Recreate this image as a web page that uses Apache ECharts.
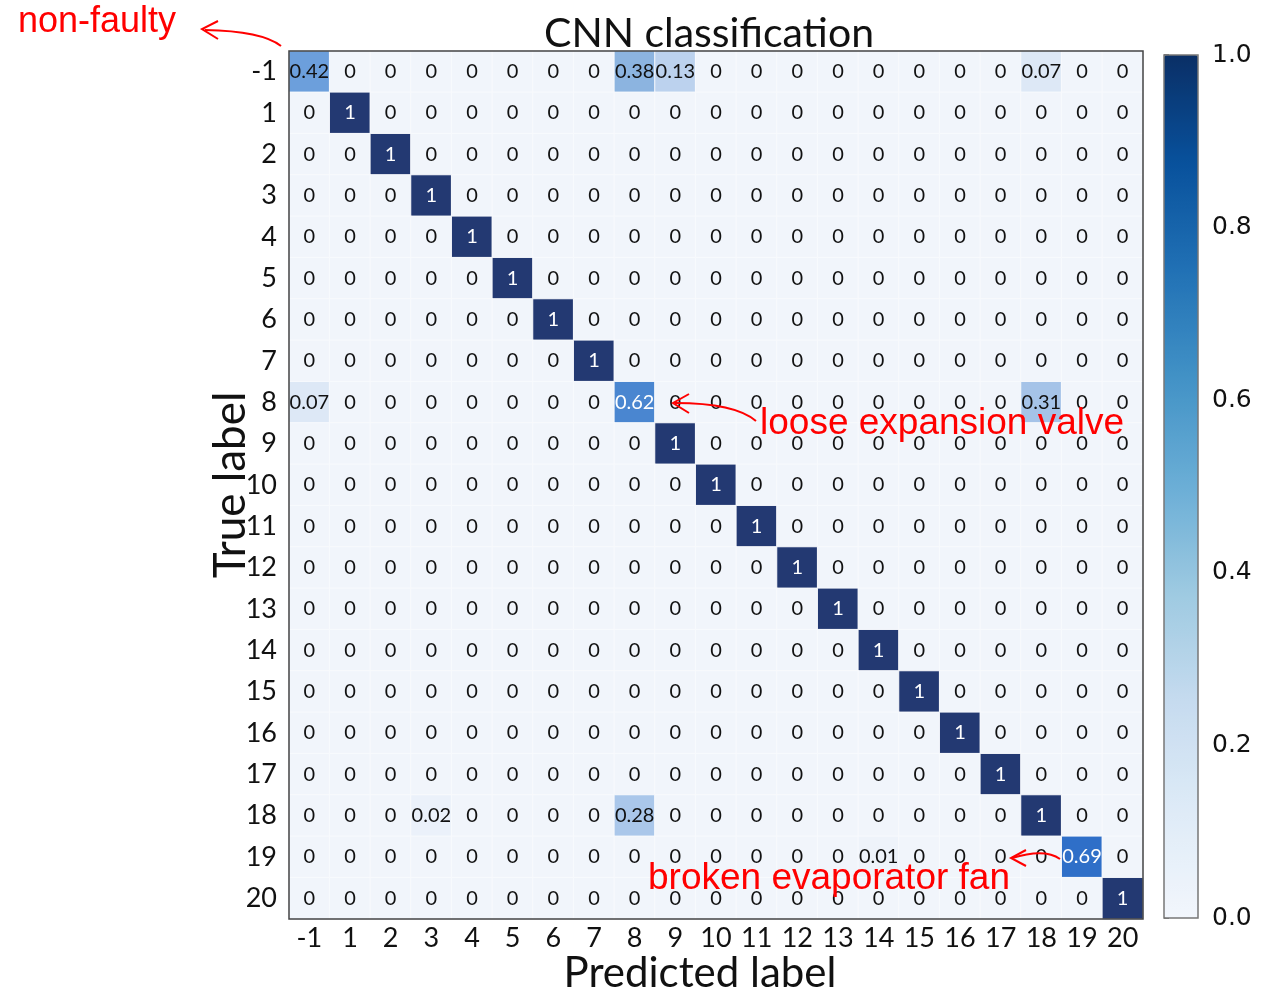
<!DOCTYPE html>
<html>
<head>
<meta charset="utf-8">
<title>CNN classification</title>
<script src="https://cdn.jsdelivr.net/npm/echarts@6/dist/echarts.min.js"></script>
<style>
  html, body { margin: 0; padding: 0; background: #ffffff; }
  #chart { width: 1279px; height: 990px; }
</style>
</head>
<body>
<div id="chart"></div>
<script>
// Class labels (true and predicted share the same set)
const categories = ['-1', '1', '2', '3', '4', '5', '6', '7', '8', '9', '10',
                    '11', '12', '13', '14', '15', '16', '17', '18', '19', '20'];

// Normalised confusion matrix, one row per true label (columns = predicted label)
const confusionRows = [
  [0.42, 0, 0, 0, 0, 0, 0, 0, 0.38, 0.13, 0, 0, 0, 0, 0, 0, 0, 0, 0.07, 0, 0], // -1
  [0, 1, 0, 0, 0, 0, 0, 0, 0, 0, 0, 0, 0, 0, 0, 0, 0, 0, 0, 0, 0],            // 1
  [0, 0, 1, 0, 0, 0, 0, 0, 0, 0, 0, 0, 0, 0, 0, 0, 0, 0, 0, 0, 0],            // 2
  [0, 0, 0, 1, 0, 0, 0, 0, 0, 0, 0, 0, 0, 0, 0, 0, 0, 0, 0, 0, 0],            // 3
  [0, 0, 0, 0, 1, 0, 0, 0, 0, 0, 0, 0, 0, 0, 0, 0, 0, 0, 0, 0, 0],            // 4
  [0, 0, 0, 0, 0, 1, 0, 0, 0, 0, 0, 0, 0, 0, 0, 0, 0, 0, 0, 0, 0],            // 5
  [0, 0, 0, 0, 0, 0, 1, 0, 0, 0, 0, 0, 0, 0, 0, 0, 0, 0, 0, 0, 0],            // 6
  [0, 0, 0, 0, 0, 0, 0, 1, 0, 0, 0, 0, 0, 0, 0, 0, 0, 0, 0, 0, 0],            // 7
  [0.07, 0, 0, 0, 0, 0, 0, 0, 0.62, 0, 0, 0, 0, 0, 0, 0, 0, 0, 0.31, 0, 0],   // 8
  [0, 0, 0, 0, 0, 0, 0, 0, 0, 1, 0, 0, 0, 0, 0, 0, 0, 0, 0, 0, 0],            // 9
  [0, 0, 0, 0, 0, 0, 0, 0, 0, 0, 1, 0, 0, 0, 0, 0, 0, 0, 0, 0, 0],            // 10
  [0, 0, 0, 0, 0, 0, 0, 0, 0, 0, 0, 1, 0, 0, 0, 0, 0, 0, 0, 0, 0],            // 11
  [0, 0, 0, 0, 0, 0, 0, 0, 0, 0, 0, 0, 1, 0, 0, 0, 0, 0, 0, 0, 0],            // 12
  [0, 0, 0, 0, 0, 0, 0, 0, 0, 0, 0, 0, 0, 1, 0, 0, 0, 0, 0, 0, 0],            // 13
  [0, 0, 0, 0, 0, 0, 0, 0, 0, 0, 0, 0, 0, 0, 1, 0, 0, 0, 0, 0, 0],            // 14
  [0, 0, 0, 0, 0, 0, 0, 0, 0, 0, 0, 0, 0, 0, 0, 1, 0, 0, 0, 0, 0],            // 15
  [0, 0, 0, 0, 0, 0, 0, 0, 0, 0, 0, 0, 0, 0, 0, 0, 1, 0, 0, 0, 0],            // 16
  [0, 0, 0, 0, 0, 0, 0, 0, 0, 0, 0, 0, 0, 0, 0, 0, 0, 1, 0, 0, 0],            // 17
  [0, 0, 0, 0.02, 0, 0, 0, 0, 0.28, 0, 0, 0, 0, 0, 0, 0, 0, 0, 1, 0, 0],      // 18
  [0, 0, 0, 0, 0, 0, 0, 0, 0, 0, 0, 0, 0, 0, 0.01, 0, 0, 0, 0, 0.69, 0],      // 19
  [0, 0, 0, 0, 0, 0, 0, 0, 0, 0, 0, 0, 0, 0, 0, 0, 0, 0, 0, 0, 1]             // 20
];

// Colour-bar tick values
const colorbarTicks = [0, 0.2, 0.4, 0.6, 0.8, 1.0];

// Cell colour ramp (value -> colour anchors)
const cellColorStops = [
  [0.00, '#f1f5fb'], [0.07, '#dde8f6'], [0.13, '#bcd2ee'], [0.30, '#a8c5e9'],
  [0.38, '#8cb4e0'], [0.42, '#6c9fdc'], [0.62, '#4a86d0'], [0.69, '#2f6fc8'],
  [1.00, '#233972']
];
// Colour-bar ramp (Blues)
const colorbarColors = ['#f2f6fc', '#deebf7', '#c6dbef', '#9ecae1', '#6baed6',
                        '#4292c6', '#2171b5', '#08519c', '#0a2f66'];

function hexToRgb(h) {
  return [parseInt(h.slice(1, 3), 16), parseInt(h.slice(3, 5), 16), parseInt(h.slice(5, 7), 16)];
}
function rampColor(v) {
  for (let k = 1; k < cellColorStops.length; k++) {
    const [v1, c1] = cellColorStops[k];
    const [v0, c0] = cellColorStops[k - 1];
    if (v <= v1) {
      const t = (v - v0) / (v1 - v0);
      const a = hexToRgb(c0), b = hexToRgb(c1);
      const m = a.map((x, i) => Math.round(x + (b[i] - x) * t));
      return 'rgb(' + m.join(',') + ')';
    }
  }
  return cellColorStops[cellColorStops.length - 1][1];
}
// Evenly sampled palette for the continuous visual map
const cellPalette = [];
for (let k = 0; k <= 100; k++) cellPalette.push(rampColor(k / 100));

const heatData = [];
confusionRows.forEach((row, i) => {
  row.forEach((v, j) => heatData.push([j, i, v]));
});

const FONT = 'Lato';
const NOTE_FONT = '"Liberation Sans", Arial, sans-serif';
const RED = '#ff0000';
const chart = echarts.init(document.getElementById('chart'), null, { renderer: 'canvas' });

function note(text, left, top, size) {
  return { type: 'text', left: left, top: top, z: 100, silent: true,
           style: { text: text, fill: RED, font: size + 'px ' + NOTE_FONT } };
}
function curve(x1, y1, cx, cy, x2, y2) {
  return { type: 'bezierCurve', z: 100, silent: true,
           shape: { x1: x1, y1: y1, cpx1: cx, cpy1: cy, x2: x2, y2: y2 },
           style: { stroke: RED, lineWidth: 2, fill: null } };
}
function head(points) {
  return { type: 'polyline', z: 100, silent: true, shape: { points: points },
           style: { stroke: RED, lineWidth: 2, fill: null } };
}

const option = {
  backgroundColor: '#ffffff',
  animation: false,
  title: {
    text: 'CNN classification',
    left: 704,
    top: 8,
    textAlign: 'center',
    textStyle: { fontFamily: FONT, fontSize: 41, fontWeight: 'normal', color: '#111' }
  },
  grid: [
    { left: 289, top: 51, width: 854, height: 868, show: true, z: 5,
      outerBoundsMode: 'none', containLabel: false,
      backgroundColor: 'transparent', borderColor: '#444', borderWidth: 1.5 },
    { left: 1164, top: 55, width: 34, height: 863, show: true, z: 5,
      outerBoundsMode: 'none', containLabel: false,
      backgroundColor: 'transparent', borderColor: '#777', borderWidth: 1.5 }
  ],
  xAxis: [
    {
      gridIndex: 0, type: 'category', data: categories,
      name: 'Predicted label', nameLocation: 'middle', nameGap: 33, nameMoveOverlap: false,
      nameTextStyle: { fontFamily: FONT, fontSize: 42, color: '#111', padding: [0, 32, 0, 0] },
      axisLine: { show: false }, axisTick: { show: false }, splitLine: { show: false },
      axisLabel: { fontFamily: FONT, fontSize: 27, color: '#111', margin: 6, interval: 0 }
    },
    { gridIndex: 1, type: 'value', show: false, min: 0, max: 1 }
  ],
  yAxis: [
    {
      gridIndex: 0, type: 'category', data: categories, inverse: true,
      name: 'True label', nameLocation: 'middle', nameGap: 36, nameRotate: 90, nameMoveOverlap: false,
      nameTextStyle: { fontFamily: FONT, fontSize: 44, color: '#111' },
      axisLine: { show: false }, axisTick: { show: false }, splitLine: { show: false },
      axisLabel: { fontFamily: FONT, fontSize: 27, color: '#111', margin: 12, interval: 0 }
    },
    {
      gridIndex: 1, type: 'value', position: 'right', min: 0, max: 1, interval: 0.2,
      axisLine: { show: false }, splitLine: { show: false },
      axisTick: { show: true, length: 5, lineStyle: { color: '#555', width: 1.5 } },
      axisLabel: {
        fontFamily: 'DejaVu Sans', fontSize: 25, color: '#111', margin: 14,
        formatter: v => (colorbarTicks.some(t => Math.abs(t - v) < 1e-9) ? v.toFixed(1) : '')
      }
    }
  ],
  visualMap: [
    {
      type: 'continuous', show: false, seriesIndex: 0, dimension: 2,
      min: 0, max: 1, inRange: { color: cellPalette }
    },
    {
      type: 'continuous', show: true, seriesIndex: 1, min: 0, max: 1,
      calculable: false, hoverLink: false, orient: 'vertical',
      left: 1164, top: 55, itemWidth: 34, itemHeight: 863, padding: 0,
      inRange: { color: colorbarColors }
    }
  ],
  series: [
    {
      type: 'heatmap', xAxisIndex: 0, yAxisIndex: 0, data: heatData,
      itemStyle: { borderColor: '#f8fafd', borderWidth: 1 },
      emphasis: { disabled: true },
      label: {
        show: true,
        formatter: p => {
          const v = p.value[2];
          return (v >= 0.5 ? '{w|' : '{b|') + String(v) + '}';
        },
        rich: {
          w: { color: '#ffffff', fontFamily: FONT, fontSize: 20 },
          b: { color: '#111111', fontFamily: FONT, fontSize: 20 }
        }
      }
    },
    { type: 'scatter', xAxisIndex: 1, yAxisIndex: 1, data: [], silent: true }
  ],
  graphic: [
    // "non-faulty" note
    note('non-faulty', 18, 4, 36),
    curve(281, 46, 262, 31, 205, 30),
    head([[218, 21], [202, 29], [218, 39]]),

    // "loose expansion valve" note
    note('loose expansion valve', 760, 405, 37),
    curve(756, 421, 735, 403, 675, 403),
    head([[689, 394], [673, 403], [689, 413]]),

    // "broken evaporator fan" note
    note('broken evaporator fan', 648, 860, 37),
    curve(1060, 859, 1045, 848, 1012, 858),
    head([[1026, 850], [1011, 858], [1026, 866]])
  ]
};

chart.setOption(option);
</script>
</body>
</html>
